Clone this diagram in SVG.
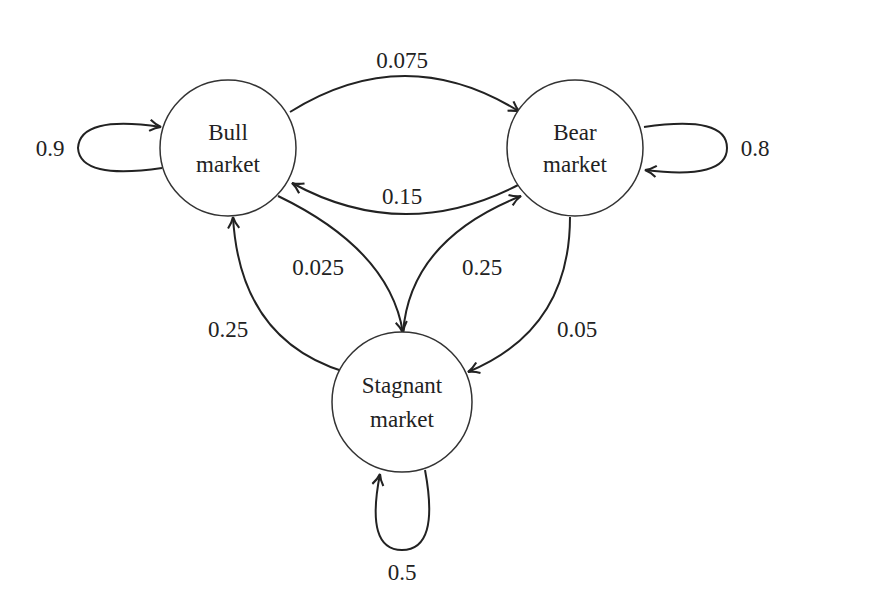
<svg xmlns="http://www.w3.org/2000/svg" width="874" height="597" viewBox="0 0 874 597">
<style>
.n{fill:#fff;stroke:#333;stroke-width:1.5}
.t{font-family:"Liberation Serif",serif;font-size:23px;fill:#222;text-anchor:middle}
.e{fill:none;stroke:#222;stroke-width:2;marker-end:url(#a)}
</style>
<defs><marker id="a" viewBox="0 0 10 10" refX="9" refY="5" markerWidth="7" markerHeight="7" orient="auto"><path d="M1,1 Q5,4 9,5 Q5,6 1,9" fill="none" stroke="#222" stroke-width="1.5"/></marker></defs>
<rect width="874" height="597" fill="#fff"/>
<g id="edges">
<path class="e" d="M290,112 Q405,40 520,112"/>
<path class="e" d="M522,183 Q405,245 292,183"/>
<path class="e" d="M278,196 Q390,250 403,333"/>
<path class="e" d="M403,333 Q410,240 521,196"/>
<path class="e" d="M345,372 Q240,340 233,217"/>
<path class="e" d="M570,217 Q570,330 468,372"/>
<path class="e" d="M162,168 Q80,180 78,148 Q80,115 161,127"/>
<path class="e" d="M644,127 Q727,115 727,148 Q727,180 645,170"/>
<path class="e" d="M425,470 Q440,550 402,550 Q365,550 380,474"/>
</g>
<g id="bull"><circle class="n" cx="228" cy="148" r="68"/><text class="t" x="228" y="140">Bull</text><text class="t" x="228" y="172">market</text></g>
<g id="bear"><circle class="n" cx="575" cy="148" r="68"/><text class="t" x="575" y="140">Bear</text><text class="t" x="575" y="172">market</text></g>
<g id="stagnant"><circle class="n" cx="402" cy="402" r="70"/><text class="t" x="402" y="393">Stagnant</text><text class="t" x="402" y="427">market</text></g>
<g id="labels">
<text class="t" x="402" y="68">0.075</text>
<text class="t" x="402" y="204">0.15</text>
<text class="t" x="50" y="156">0.9</text>
<text class="t" x="755" y="156">0.8</text>
<text class="t" x="318" y="275">0.025</text>
<text class="t" x="482" y="275">0.25</text>
<text class="t" x="228" y="337">0.25</text>
<text class="t" x="577" y="337">0.05</text>
<text class="t" x="402" y="580">0.5</text>
</g>
</svg>
